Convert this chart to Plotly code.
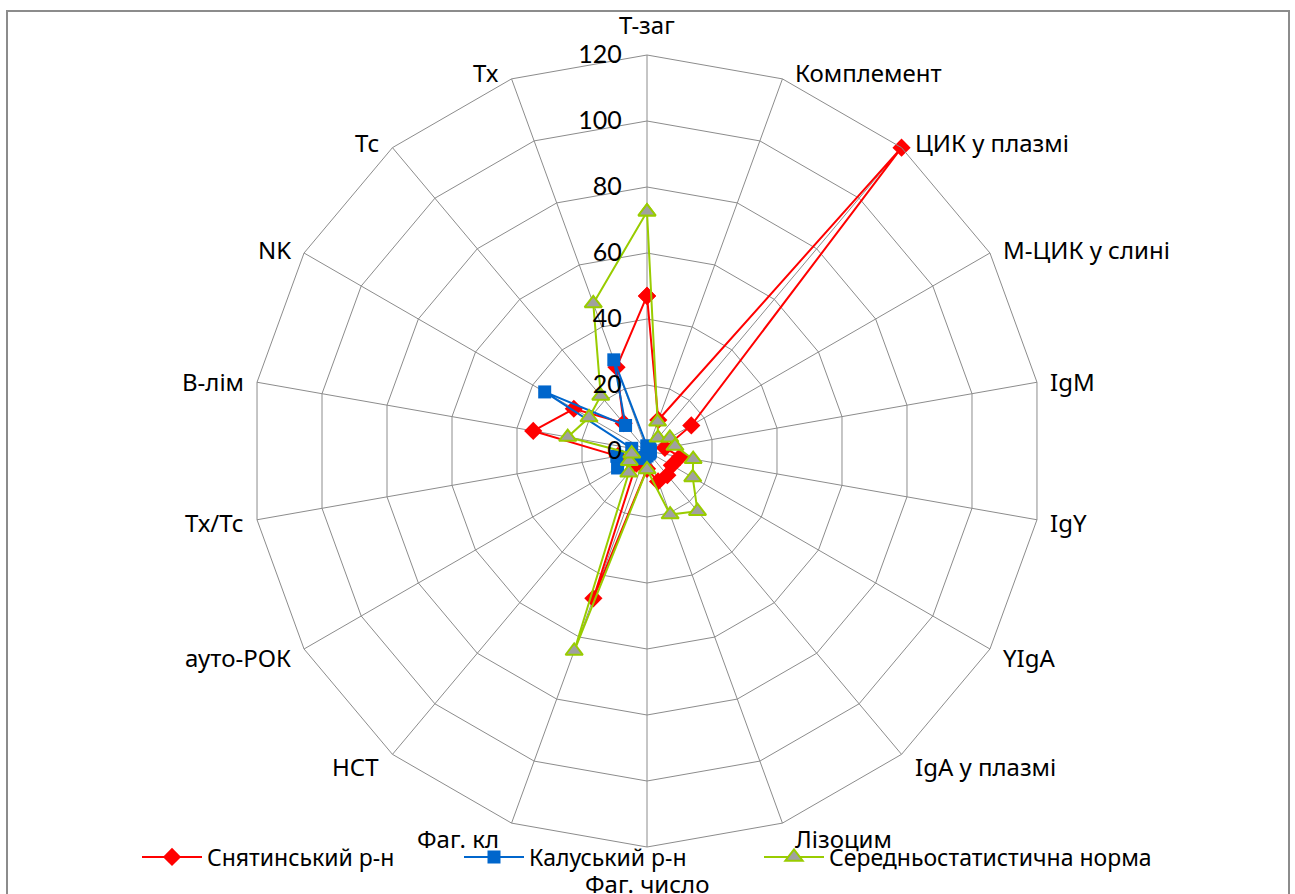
import math
import plotly.graph_objects as go

# Immune status indicators, clockwise from the top
categories = [
    "Т-заг", "Комплемент", "ЦИК у плазмі", "М-ЦИК у слині", "IgM", "IgY",
    "YIgA", "IgA у плазмі", "Лізоцим", "Фаг. число", "Фаг. кл", "НСТ",
    "ауто-РОК", "Тх/Тс", "В-лім", "NK", "Тс", "Тх",
]

snyatyn = [47, 10, 120, 15.5, 5.5, 10.2, 8.7, 9.6, 9.8, 5.4, 47.5, 5, 6, 9, 35, 25.6, 11, 27]
kalush = [1.5, 1, 1, 1, 1, 1, 1, 1, 1, 1.5, 2, 3, 10.3, 9.3, 4.7, 35.8, 10.1, 29.4]
norm = [72.5, 9.4, 5.2, 8, 8.6, 14.2, 16, 23.8, 20.5, 5.6, 64.5, 8.6, 6.2, 4.7, 24.4, 20.3, 21.8, 47.6]

series_names = ["Снятинський р-н", "Калуський р-н", "Середньостатистична норма"]
radial_ticks = [0, 20, 40, 60, 80, 100, 120]

FONT = "Noto Sans"
GRID = "#8c8c8c"


def closed(values):
    return list(values) + [values[0]]


theta = closed(categories)

fig = go.Figure()
fig.add_trace(go.Scatterpolar(
    r=closed(snyatyn), theta=theta, name=series_names[0], mode="lines+markers",
    line=dict(color="#ff0000", width=2),
    marker=dict(symbol="diamond", size=14, color="#ff0000"),
    legend="legend", showlegend=True,
))
fig.add_trace(go.Scatterpolar(
    r=closed(kalush), theta=theta, name=series_names[1], mode="lines+markers",
    line=dict(color="#0066cc", width=2),
    marker=dict(symbol="square", size=13, color="#0066cc"),
    legend="legend2", showlegend=True,
))
fig.add_trace(go.Scatterpolar(
    r=closed(norm), theta=theta, name=series_names[2], mode="lines+markers",
    line=dict(color="#99cc00", width=2),
    marker=dict(symbol="triangle-up", size=15, color="#a0a0a0",
                line=dict(color="#99cc00", width=2)),
    legend="legend3", showlegend=True,
))

W, H = 1295, 894
cx, cy, rad = 647, 451, 396

# Category captions sit just outside each spoke end, spreadsheet style:
# beside the vertex on the flanks, above/below it at the poles.
captions = []
step = 360 / len(categories)
for k, name in enumerate(categories):
    ang = math.radians(90 - k * step)
    c, s = math.cos(ang), math.sin(ang)
    vx, vy = cx + rad * c, cy - rad * s
    if abs(c) < 0.1:
        x, anchor = vx, "center"
        y = vy - 30 if s > 0 else vy + 36
    else:
        gap = 11
        x, anchor = (vx + gap, "left") if c > 0 else (vx - gap, "right")
        y = vy - (7 * s if s > 0 else 16 * s)
    captions.append(dict(
        text=name, x=x / W, y=1 - y / H, xref="paper", yref="paper",
        xanchor=anchor, yanchor="middle", showarrow=False,
        font=dict(family=FONT, size=24, color="#000"),
    ))

legend_common = dict(
    orientation="h", yanchor="middle", y=(H - 857) / H, xanchor="left",
    font=dict(family=FONT, size=23, color="#000"), bgcolor="rgba(0,0,0,0)",
    itemwidth=60, tracegroupgap=0,
)

fig.update_layout(
    width=W, height=H,
    margin=dict(l=0, r=0, t=0, b=0),
    paper_bgcolor="white",
    showlegend=True,
    font=dict(family=FONT, color="#000"),
    polar=dict(
        domain=dict(x=[(cx - rad) / W, (cx + rad) / W],
                    y=[(H - cy - rad) / H, (H - cy + rad) / H]),
        bgcolor="white",
        gridshape="linear",
        angularaxis=dict(
            direction="clockwise", rotation=90,
            showline=True, linecolor=GRID, linewidth=1,
            gridcolor=GRID, gridwidth=1, ticks="", showticklabels=False,
        ),
        radialaxis=dict(
            range=[0, 120], tickvals=radial_ticks, angle=90, tickangle=90,
            side="counterclockwise",
            showline=False, gridcolor=GRID, gridwidth=1,
            ticks="outside", ticklen=16, tickcolor="rgba(0,0,0,0)",
            tickfont=dict(family="Lato", size=25, color="#000"),
        ),
    ),
    legend=dict(legend_common, x=137 / W),
    legend2=dict(legend_common, x=459 / W),
    legend3=dict(legend_common, x=759 / W),
    annotations=captions,
    shapes=[dict(
        type="rect", xref="paper", yref="paper",
        x0=7 / W, x1=1289 / W, y0=-0.05, y1=(H - 11) / H,
        line=dict(color="#8c8c8c", width=2), fillcolor="rgba(0,0,0,0)",
        layer="below",
    )],
)

fig.write_html("out.html")
